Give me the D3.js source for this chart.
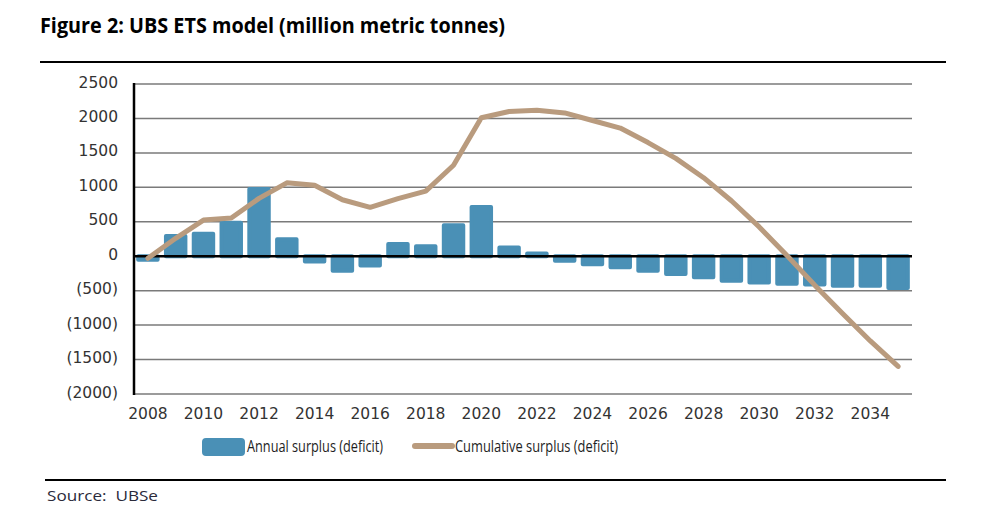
<!DOCTYPE html>
<html>
<head>
<meta charset="utf-8">
<script src="https://cdn.jsdelivr.net/npm/d3@7"></script>
<style>
  html, body { margin: 0; padding: 0; background: #fff; }
  svg { display: block; }
</style>
</head>
<body>
<svg id="chart" width="992" height="527"></svg>
<script>
const years = [2008,2009,2010,2011,2012,2013,2014,2015,2016,2017,2018,2019,2020,2021,2022,2023,2024,2025,2026,2027,2028,2029,2030,2031,2032,2033,2034,2035];
const annualSurplus = [-50,295,325,485,975,245,-75,-210,-135,178,145,450,715,125,40,-65,-115,-160,-210,-258,-305,-355,-380,-400,-410,-428,-430,-460];
const cumulativeSurplus = [-30,260,525,555,840,1065,1030,820,710,835,945,1320,2010,2100,2120,2080,1970,1860,1650,1420,1140,805,425,10,-420,-830,-1230,-1600];
const yTicks = [2500,2000,1500,1000,500,0,-500,-1000,-1500,-2000];
const xTickYears = [2008,2010,2012,2014,2016,2018,2020,2022,2024,2026,2028,2030,2032,2034];
const titleText = "Figure 2: UBS ETS model (million metric tonnes)";
const legendLabels = ["Annual surplus (deficit)", "Cumulative surplus (deficit)"];
const sourceText = "Source:  UBSe";

const barColor = "#4a90b6";
const lineColor = "#b99b7e";

const svg = d3.select("#chart");

const margin = {left: 134, right: 912, top: 84, bottom: 394};
const x = d3.scaleBand().domain(years).range([margin.left, margin.right]).paddingInner(0.3).paddingOuter(0.15);
const y = d3.scaleLinear().domain([-2000, 2500]).range([margin.bottom, margin.top]);

// Title
svg.append("text")
  .attr("x", 40).attr("y", 33)
  .attr("font-family", "'Open Sans', sans-serif")
  .attr("font-weight", "bold")
  .attr("font-size", 21.5)
  .attr("fill", "#000")
  .attr("textLength", 465)
  .attr("lengthAdjust", "spacingAndGlyphs")
  .text(titleText);

// top rule
svg.append("line").attr("x1", 40).attr("x2", 946).attr("y1", 62).attr("y2", 62)
  .attr("stroke", "#000").attr("stroke-width", 2);

// gridlines
svg.append("g").selectAll("line").data(yTicks.filter(d => d !== 0)).join("line")
  .attr("x1", margin.left).attr("x2", margin.right)
  .attr("y1", d => y(d)).attr("y2", d => y(d))
  .attr("stroke", "#7a7a7a").attr("stroke-width", 1.5);

// bars
svg.append("g").selectAll("rect").data(years.map((yr, i) => ({yr, v: annualSurplus[i]}))).join("rect")
  .attr("x", d => x(d.yr))
  .attr("width", x.bandwidth())
  .attr("y", d => y(Math.max(0, d.v)))
  .attr("height", d => Math.abs(y(d.v) - y(0)))
  .attr("fill", barColor)
  .attr("stroke", barColor)
  .attr("stroke-width", 4)
  .attr("stroke-linejoin", "round");

// zero line
svg.append("line").attr("x1", margin.left).attr("x2", margin.right)
  .attr("y1", y(0)).attr("y2", y(0))
  .attr("stroke", "#000").attr("stroke-width", 2.5);

// y axis line
svg.append("line").attr("x1", margin.left).attr("x2", margin.left)
  .attr("y1", y(2500) - 1).attr("y2", y(-2000) + 1)
  .attr("stroke", "#000").attr("stroke-width", 2.5);

// y tick labels
const fmt = d => d < 0 ? "(" + Math.abs(d) + ")" : String(d);
const yAxis = d3.axisLeft(y).tickValues(yTicks).tickFormat(fmt).tickSize(0).tickPadding(0);
const gy = svg.append("g").attr("transform", `translate(118,0)`).call(yAxis);
gy.select(".domain").remove();
gy.selectAll("text")
  .attr("font-family", "'DejaVu Sans', sans-serif")
  .attr("font-size", 15.5)
  .attr("fill", "#333")
  .attr("dy", "0.2em");

// x tick labels
const xAxis = d3.axisBottom(x).tickValues(xTickYears).tickSize(0).tickPadding(0);
const gx = svg.append("g").attr("transform", `translate(0,${y(-2000) + 10})`).call(xAxis);
gx.select(".domain").remove();
gx.selectAll("text")
  .attr("font-family", "'DejaVu Sans', sans-serif")
  .attr("font-size", 15.5)
  .attr("fill", "#333")
  .attr("dy", "0.95em");

// cumulative line
const line = d3.line()
  .x((d, i) => x(years[i]) + x.bandwidth() / 2)
  .y(d => y(d));
svg.append("path").datum(cumulativeSurplus)
  .attr("d", line)
  .attr("fill", "none")
  .attr("stroke", lineColor)
  .attr("stroke-width", 5)
  .attr("stroke-linejoin", "round")
  .attr("stroke-linecap", "round");

// legend
const lg = svg.append("g");
lg.append("rect").attr("x", 203).attr("y", 439).attr("width", 41).attr("height", 16)
  .attr("rx", 3).attr("fill", barColor).attr("stroke", barColor).attr("stroke-width", 2);
lg.append("text").attr("x", 247).attr("y", 452)
  .attr("font-family", "'Open Sans', sans-serif").attr("font-size", 15.5)
  .attr("fill", "#1e1e1e")
  .attr("textLength", 136).attr("lengthAdjust", "spacingAndGlyphs")
  .text(legendLabels[0]);
lg.append("line").attr("x1", 415).attr("x2", 452).attr("y1", 446).attr("y2", 446)
  .attr("stroke", lineColor).attr("stroke-width", 6).attr("stroke-linecap", "round");
lg.append("text").attr("x", 455).attr("y", 452)
  .attr("font-family", "'Open Sans', sans-serif").attr("font-size", 15.5)
  .attr("fill", "#1e1e1e")
  .attr("textLength", 163).attr("lengthAdjust", "spacingAndGlyphs")
  .text(legendLabels[1]);

// bottom rule
svg.append("line").attr("x1", 45).attr("x2", 946).attr("y1", 480).attr("y2", 480)
  .attr("stroke", "#000").attr("stroke-width", 2);

// source
svg.append("text").attr("x", 47).attr("y", 501)
  .attr("font-family", "'Open Sans', sans-serif").attr("font-size", 15)
  .attr("fill", "#2a2a3a")
  .attr("textLength", 111).attr("lengthAdjust", "spacingAndGlyphs")
  .attr("xml:space", "preserve")
  .style("white-space", "pre")
  .text(sourceText);
</script>
</body>
</html>
